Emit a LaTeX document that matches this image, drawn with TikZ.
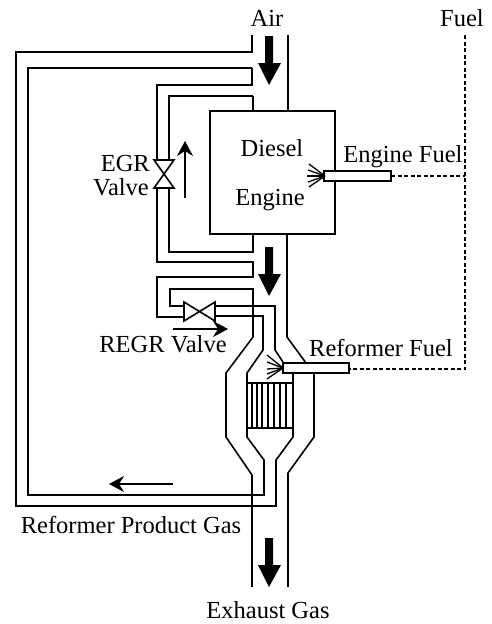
\documentclass[tikz,border=0pt]{standalone}
\usepackage{fontspec}
\setmainfont{Liberation Serif}
\usetikzlibrary{arrows.meta}
\tikzset{
  pipe/.style={line width=1.6pt,line join=miter},
  heavy/.style={line width=2pt,line join=miter},
  fuelline/.style={line width=1.2pt,dash pattern=on 4pt off 2.5pt},
  flow/.style={line width=1.2pt,-{Stealth[length=15pt,width=16pt,inset=5pt]}},
  bigflow/.style={fill=black,draw=none},
  lbl/.style={inner sep=0pt,font=\fontsize{24.5pt}{25pt}\selectfont},
  spray/.style={line width=1.3pt},
}
\begin{document}
\begin{tikzpicture}[x=1pt,y=-1pt]
\useasboundingbox (0,0) rectangle (492,624);
% main duct, top
\draw[pipe] (252,35) -- (252,52) -- (16,52) -- (16,506) -- (276,506) -- (276,460) -- (293,437) -- (293,373);
\draw[pipe] (252,68) -- (252,85) -- (157,85) -- (157,160);
\draw[pipe] (252,68) -- (28,68) -- (28,495) -- (264,495) -- (264,460) -- (247,437) -- (247,373) -- (263,350) -- (263,316) -- (215,316);
\draw[pipe] (253,96) -- (169,96) -- (169,160);
\draw[pipe] (253,96) -- (253,111);
\draw[pipe] (288,35) -- (288,111);
\draw[pipe] (169,188) -- (169,252) -- (253,252) -- (253,234);
\draw[pipe] (157,188) -- (157,262) -- (253,262) -- (253,277) -- (157,277) -- (157,317) -- (184,317);
\draw[pipe] (184,306) -- (170,306) -- (170,289) -- (253,289) -- (253,337) -- (226,373) -- (226,437) -- (252,475) -- (252,506);
\draw[pipe] (252,506) -- (252,587);
\draw[pipe] (215,306) -- (275,306) -- (275,350) -- (283,362);
\draw[pipe] (287,234) -- (287,337) -- (306,363);
\draw[pipe] (314,373) -- (314,437) -- (288,473) -- (288,587);
% engine
\draw[heavy] (210,111) rectangle (335,234);
% valves
\draw[pipe] (154,160) -- (174,160) -- (154,188) -- (174,188) -- cycle;
\draw[pipe] (184,302) -- (184,321) -- (215,302) -- (215,321) -- cycle;
% reformer catalyst
\draw[heavy] (247,383) -- (293,383) (247,428) -- (293,428);
\foreach \xv in {252,257,262,268,274,280,286} \draw[pipe] (\xv,383) -- (\xv,429);
% nozzles
\draw[heavy,fill=white] (324,171) rectangle (391,181);
\draw[heavy,fill=white] (283,363) rectangle (349,373);
% sprays
\foreach \a/\b in {309/164,308/170,307/176,308/182,309/187} \draw[spray] (325,176) -- (\a,\b);
\foreach \a/\b in {267/355,267/362,267/369,267/374,267/379} \draw[spray] (283,368) -- (\a,\b);
% fuel lines
\coordinate (fueltop) at (465,35);
\coordinate (fuelbot) at (465,369);
\coordinate (fuelmid) at (465,176);
\draw[fuelline] (fueltop) -- (fuelbot) -- (349,369);
\draw[fuelline] (391,176) -- (fuelmid);
% thin arrows
\coordinate (a1) at (185,198); \coordinate (a2) at (185,141);
\coordinate (b1) at (173,329); \coordinate (b2) at (228,329);
\coordinate (c1) at (173,484); \coordinate (c2) at (109,484);
\draw[flow] (a1) -- (a2);
\draw[flow] (b1) -- (b2);
\draw[flow] (c1) -- (c2);
% thick arrows
\foreach \yv in {36,247,538}
  \fill[bigflow] (265,\yv) -- (273,\yv) -- (273,\yv+27) -- (281,\yv+27) -- (269,\yv+49) -- (258,\yv+27) -- (265,\yv+27) -- cycle;
% labels
\node[lbl] (air) at (267,18) {Air};
\node[lbl] (fuel) at (462,18) {Fuel};
\node[lbl] (diesel) at (272,148) {Diesel};
\node[lbl] (engine) at (270,200) {Engine};
\node[lbl] (efuel) at (403,157) {Engine Fuel};
\node[lbl,anchor=east] (egr) at (150,164) {EGR};
\node[lbl,anchor=east] (valve) at (149,187) {Valve};
\node[lbl] (regr) at (163,344) {REGR Valve};
\node[lbl] (rfuel) at (381,348) {Reformer Fuel};
\node[lbl] (rpg) at (131,525) {Reformer Product Gas};
\node[lbl] (exh) at (268,610) {Exhaust Gas};
\end{tikzpicture}
\end{document}
